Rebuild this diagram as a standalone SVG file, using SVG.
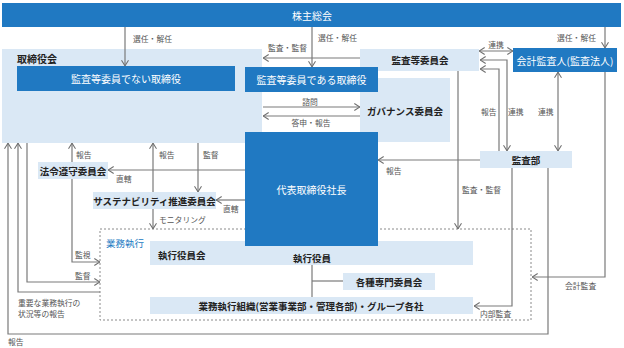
<svg xmlns="http://www.w3.org/2000/svg" width="624" height="348" viewBox="0 0 624 348">
<defs>
<marker id="ah" viewBox="0 0 8 10" refX="7.5" refY="5" markerWidth="7" markerHeight="9" markerUnits="userSpaceOnUse" orient="auto-start-reverse">
<path d="M1,1 L7.3,5 L1,9" fill="none" stroke="#707070" stroke-width="1.2"/>
</marker>
<style>
text{font-family:"Noto Sans CJK JP","Noto Sans",sans-serif;dominant-baseline:central}
.dk{fill:#2079c2}
.lt{fill:#dae8f5}
.w{fill:#fff;font-size:10px;text-anchor:middle}
.b{fill:#222;font-size:9.5px;font-weight:bold;text-anchor:middle}
.s{fill:#555;font-size:7.8px}
.c{fill:none;stroke:#7a7a7a;stroke-width:1.2}
.a{marker-end:url(#ah)}
.d{marker-start:url(#ah);marker-end:url(#ah)}
</style>
</defs>

<g id="regions">
<rect id="torishimariyakukai-region" class="lt" x="2" y="49" width="260" height="94"/>
<rect id="kansatouiinkai-region" class="lt" x="360" y="49" width="119" height="22"/>
<rect id="governance-region" class="lt" x="360" y="78" width="90" height="64"/>
<rect id="gyomu-box" x="100" y="229" width="431" height="91" fill="none" stroke="#8a8a8a" stroke-width="1" stroke-dasharray="2,2"/>
</g>

<g id="connectors">
<path class="c a" d="M125,27 V66"/>
<path class="c a" d="M312,27 V67"/>
<path class="c a" d="M605,27 V48"/>
<path class="c a" d="M360,58 H263"/>
<path class="c a" d="M263,107 H360"/>
<path class="c a" d="M360,116 H263"/>
<path class="c d" d="M479,51 H513"/>
<path class="c d" d="M507,151 V60 H480"/>
<path class="c a" d="M499,151 V69 H480"/>
<path class="c d" d="M558,72 V151"/>
<path class="c a" d="M480,160 H378"/>
<path class="c a" d="M458,71 V229"/>
<path class="c a" d="M512,168 V306 H474"/>
<path class="c a" d="M548,168 V334 H8 V143"/>
<path class="c a" d="M605,72 V277 H532"/>
<path class="c a" d="M245,170 H108"/>
<path class="c a" d="M245,200 H216"/>
<path class="c a" d="M72,162 V143"/>
<path class="c a" d="M72,179 V262 H100"/>
<path class="c a" d="M153,192 V143"/>
<path class="c a" d="M153,209 V229"/>
<path class="c a" d="M198,143 V192"/>
<path class="c a" d="M27,143 V282 H100"/>
<path class="c a" d="M100,292 H18 V143"/>
<path class="c" d="M312,265 V297"/>
<path class="c" d="M312,281 H343"/>
</g>

<g id="kabunushi-sokai">
<rect class="dk" x="2" y="3" width="619" height="24"/>
<text class="w" x="312" y="15">株主総会</text>
</g>

<g id="torishimariyakukai">
<text x="17" y="58" style="fill:#222;font-size:10px;font-weight:bold">取締役会</text>
</g>

<g id="non-audit-directors">
<rect class="dk" x="17" y="66" width="218" height="25"/>
<text class="w" x="126" y="78.5">監査等委員でない取締役</text>
</g>

<g id="audit-directors">
<rect class="dk" x="245" y="67" width="133" height="25"/>
<text class="w" x="311.5" y="79.5">監査等委員である取締役</text>
</g>

<g id="kansatouiinkai">
<text class="b" x="420" y="60">監査等委員会</text>
</g>

<g id="governance">
<text class="b" x="405" y="111">ガバナンス委員会</text>
</g>

<g id="kaikei-kansanin">
<rect class="dk" x="513" y="48" width="104" height="24"/>
<text class="w" x="565" y="60">会計監査人(監査法人)</text>
</g>

<g id="kansabu">
<rect class="lt" x="480" y="151" width="92" height="17"/>
<text class="b" x="526" y="159.5">監査部</text>
</g>

<g id="houryou">
<rect class="lt" x="38" y="162" width="70" height="17"/>
<text class="b" x="73" y="170.5">法令遵守委員会</text>
</g>

<g id="sustainability">
<rect class="lt" x="93" y="192" width="123" height="17"/>
<text class="b" x="154.5" y="200.5">サステナビリティ推進委員会</text>
</g>

<g id="shikkou-yakuinkai">
<rect class="lt" x="150" y="241" width="323" height="24"/>
<text x="158" y="254.5" style="fill:#222;font-size:9.5px;font-weight:bold">執行役員会</text>
<text class="b" x="312" y="257.5">執行役員</text>
</g>

<g id="daihyo">
<rect class="dk" x="245" y="132" width="133" height="114"/>
<text class="w" x="311.5" y="189">代表取締役社長</text>
</g>

<g id="senmon-iinkai">
<rect class="lt" x="343" y="273" width="92" height="17"/>
<text class="b" x="389" y="281.5">各種専門委員会</text>
</g>

<g id="gyomu-soshiki">
<rect class="lt" x="150" y="297" width="323" height="17"/>
<text class="b" x="311" y="305.5">業務執行組織(営業事業部・管理各部)・グループ各社</text>
</g>

<g id="labels">
<text x="106" y="243" style="fill:#2079c2;font-size:9.5px">業務執行</text>
<text class="s" x="133" y="38">選任・解任</text>
<text class="s" x="318" y="37">選任・解任</text>
<text class="s" x="557" y="37">選任・解任</text>
<text class="s" x="268" y="47">監査・監督</text>
<text class="s" x="310" y="101" text-anchor="middle">諮問</text>
<text class="s" x="311" y="122" text-anchor="middle">答申・報告</text>
<text class="s" x="496" y="44" text-anchor="middle">連携</text>
<text class="s" x="481" y="111">報告</text>
<text class="s" x="508" y="111">連携</text>
<text class="s" x="538" y="111">連携</text>
<text class="s" x="386" y="170">報告</text>
<text class="s" x="462" y="189">監査・監督</text>
<text class="s" x="565" y="285">会計監査</text>
<text class="s" x="480" y="313">内部監査</text>
<text class="s" x="8" y="341">報告</text>
<text class="s" x="116" y="178">直轄</text>
<text class="s" x="223" y="208">直轄</text>
<text class="s" x="76" y="154">報告</text>
<text class="s" x="159" y="154">報告</text>
<text class="s" x="203" y="154">監督</text>
<text class="s" x="159" y="219">モニタリング</text>
<text class="s" x="75" y="254">監視</text>
<text class="s" x="75" y="275">監督</text>
<text class="s" x="18" y="302">重要な業務執行の</text>
<text class="s" x="18" y="313">状況等の報告</text>
</g>
</svg>
